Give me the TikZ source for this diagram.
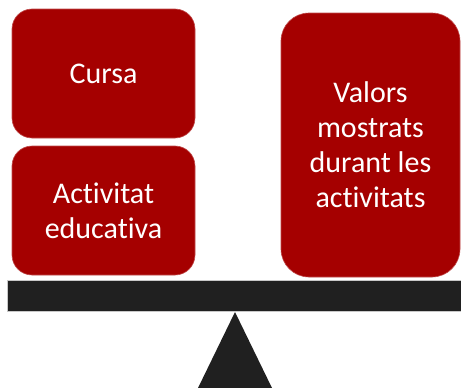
\documentclass[tikz,border=0pt]{standalone}
\usepackage{fontspec}
\setmainfont[Ligatures={NoCommon}]{Carlito}
\definecolor{boxred}{HTML}{A50000}
\definecolor{beamgray}{HTML}{202020}
\definecolor{edgegray}{HTML}{C8C8C8}
\begin{document}
\begin{tikzpicture}[x=1pt,y=-1pt,
  redbox/.style={rectangle, rounded corners=20pt, fill=boxred, draw=boxred!70!white, line width=0.6pt,
    text=white, align=center, inner sep=0pt,
    font=\fontsize{30}{35}\selectfont},
  beambox/.style={rectangle, fill=beamgray, draw=edgegray, line width=0.8pt, inner sep=0pt},
  fulcrum/.style={fill=beamgray}]
\useasboundingbox[fill=white] (0,0) rectangle (461,388);
\node[redbox, minimum width=183pt, minimum height=129pt] (cursa) at (103.5,73.5) {Cursa};
\node[redbox, minimum width=183pt, minimum height=129pt] (activ) at (103.5,210.5) {Activitat\\educativa};
\node[redbox, rounded corners=28pt, minimum width=179pt, minimum height=264pt] (valors) at (370.5,145) {Valors\\mostrats\\durant les\\activitats};
\node[beambox, minimum width=456pt, minimum height=31pt] (beam) at (235,295.5) {};
\coordinate (apex) at (235,312);
\coordinate (bl) at (198,388);
\coordinate (br) at (272,388);
\fill[fulcrum] (apex) -- (br) -- (bl) -- cycle;
\end{tikzpicture}
\end{document}
